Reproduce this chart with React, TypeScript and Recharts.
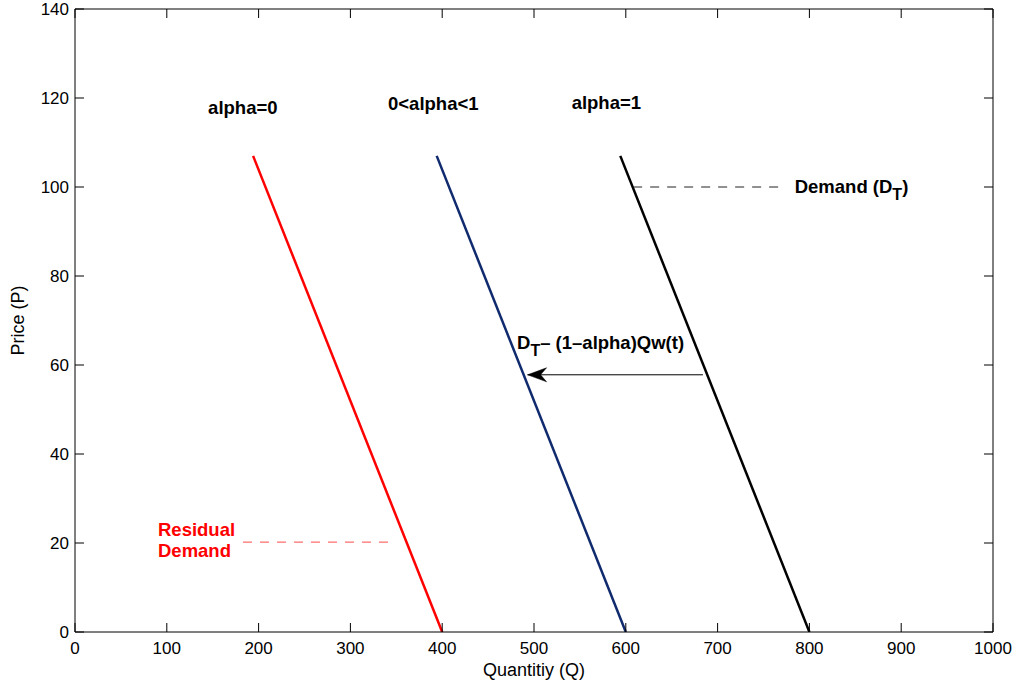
import React from 'react';
import { ComposedChart, Line, Scatter, XAxis, YAxis, Label } from 'recharts';

// Demand curves (Quantity q, Price p)
const redCurve = [{ q: 194, p: 107 }, { q: 400, p: 0 }];
const blueCurve = [{ q: 394, p: 107 }, { q: 600, p: 0 }];
const blackCurve = [{ q: 594, p: 107 }, { q: 800, p: 0 }];

// Dashed leader lines
const demandLeader = [{ q: 608, p: 100 }, { q: 768, p: 100 }];
const residualLeader = [{ q: 183, p: 20.2 }, { q: 343, p: 20.2 }];

// Shift arrow
const shiftArrow = [{ q: 684, p: 57.8 }, { q: 493, p: 57.8 }];

// Annotations
const annotations = [
  { q: 145, p: 116.5, text: 'alpha=0', color: '#000', sub: '', after: '' },
  { q: 341, p: 117.2, text: '0<alpha<1', color: '#000', sub: '', after: '' },
  { q: 541, p: 117.6, text: 'alpha=1', color: '#000', sub: '', after: '' },
  { q: 784, p: 98.6, text: 'Demand (D', color: '#000', sub: 'T', after: ')' },
  { q: 481.5, p: 63.7, text: 'D', color: '#000', sub: 'T', after: '\u2013 (1\u2013alpha)Qw(t)' },
  { q: 90.4, p: 21.6, text: 'Residual', color: '#ff0000', sub: '', after: '' },
  { q: 90.4, p: 16.9, text: 'Demand', color: '#ff0000', sub: '', after: '' },
];

const xTicks = [0, 100, 200, 300, 400, 500, 600, 700, 800, 900, 1000];
const yTicks = [0, 20, 40, 60, 80, 100, 120, 140];

const FONT = '"Liberation Sans", Arial, Helvetica, sans-serif';
const TICK_LEN = 9;

const BottomTick = (props: any) => {
  const { x, y, payload } = props;
  return (
    <g>
      <line x1={x} x2={x} y1={y} y2={y - TICK_LEN} stroke="#000" strokeWidth={1} />
      <text x={x} y={y + 22} textAnchor="middle" fontSize={17} fontFamily={FONT} fill="#000">
        {payload.value}
      </text>
    </g>
  );
};
const TopTick = (props: any) => {
  const { x, y } = props;
  return <line x1={x} x2={x} y1={y} y2={y + TICK_LEN} stroke="#000" strokeWidth={1} />;
};
const LeftTick = (props: any) => {
  const { x, y, payload } = props;
  return (
    <g>
      <line x1={x} x2={x + TICK_LEN} y1={y} y2={y} stroke="#000" strokeWidth={1} />
      <text x={x - 6} y={y + 6} textAnchor="end" fontSize={17} fontFamily={FONT} fill="#000">
        {payload.value}
      </text>
    </g>
  );
};
const RightTick = (props: any) => {
  const { x, y } = props;
  return <line x1={x} x2={x - TICK_LEN} y1={y} y2={y} stroke="#000" strokeWidth={1} />;
};

const AnnotationShape = (props: any) => {
  const { cx, cy, payload } = props;
  return (
    <text x={cx} y={cy} fontSize={18.5} fontWeight="bold" fontFamily={FONT} fill={payload.color}>
      {payload.text}
      {payload.sub ? (
        <tspan dy={7} fontSize={16}>{payload.sub}</tspan>
      ) : null}
      {payload.after ? <tspan dy={payload.sub ? -7 : 0}>{payload.after}</tspan> : null}
    </text>
  );
};

const ArrowHead = (props: any) => {
  const { cx, cy, index } = props;
  if (index !== 1) return <g key={`ah${index}`} />;
  return (
    <path
      key={`ah${index}`}
      d={`M ${cx} ${cy} L ${cx + 19} ${cy - 7} L ${cx + 13} ${cy} L ${cx + 19} ${cy + 7} Z`}
      fill="#000"
      stroke="#000"
      strokeWidth={0.5}
    />
  );
};

export default function App() {
  return (
    <div style={{ position: 'absolute', left: 0, top: 0, background: '#fff' }}>
      <ComposedChart width={1016} height={690} margin={{ top: 8, right: 22, bottom: 0, left: 0 }}>
        <XAxis
          xAxisId="b"
          type="number"
          dataKey="q"
          domain={[0, 1000]}
          ticks={xTicks}
          interval={0}
          height={58}
          tickSize={0}
          tickMargin={0}
          tickLine={false}
          tick={<BottomTick />}
          axisLine={{ stroke: '#000', strokeWidth: 1 }}
          allowDataOverflow
        >
          <Label
            content={(p: any) => {
              const vb = p.viewBox;
              return (
                <text x={vb.x + vb.width / 2} y={vb.y + 44} textAnchor="middle" fontSize={18} fontFamily={FONT} fill="#000">
                  Quantitiy (Q)
                </text>
              );
            }}
          />
        </XAxis>
        <XAxis
          xAxisId="t"
          orientation="top"
          type="number"
          dataKey="q"
          domain={[0, 1000]}
          ticks={xTicks}
          interval={0}
          height={1}
          tickSize={0}
          tickMargin={0}
          tickLine={false}
          tick={<TopTick />}
          axisLine={{ stroke: '#000', strokeWidth: 1 }}
          allowDataOverflow
        />
        <YAxis
          yAxisId="l"
          type="number"
          dataKey="p"
          domain={[0, 140]}
          ticks={yTicks}
          interval={0}
          width={75}
          tickSize={0}
          tickMargin={0}
          tickLine={false}
          tick={<LeftTick />}
          axisLine={{ stroke: '#000', strokeWidth: 1 }}
          allowDataOverflow
        >
          <Label
            content={(p: any) => {
              const vb = p.viewBox;
              const cy = vb.y + vb.height / 2;
              return (
                <text x={24} y={cy} transform={`rotate(-90, 24, ${cy})`} textAnchor="middle" fontSize={18} fontFamily={FONT} fill="#000">
                  Price (P)
                </text>
              );
            }}
          />
        </YAxis>
        <YAxis
          yAxisId="r"
          orientation="right"
          type="number"
          dataKey="p"
          domain={[0, 140]}
          ticks={yTicks}
          interval={0}
          width={1}
          tickSize={0}
          tickMargin={0}
          tickLine={false}
          tick={<RightTick />}
          axisLine={{ stroke: '#000', strokeWidth: 1 }}
          allowDataOverflow
        />

        <Line xAxisId="t" yAxisId="r" data={blackCurve} dataKey="p" stroke="none" strokeWidth={0} dot={false} activeDot={false} isAnimationActive={false} />
        <Line xAxisId="b" yAxisId="l" data={redCurve} dataKey="p" stroke="#ff0000" strokeWidth={2.5} dot={false} isAnimationActive={false} />
        <Line xAxisId="b" yAxisId="l" data={blueCurve} dataKey="p" stroke="#102a6e" strokeWidth={2.5} dot={false} isAnimationActive={false} />
        <Line xAxisId="b" yAxisId="l" data={blackCurve} dataKey="p" stroke="#000" strokeWidth={2.5} dot={false} isAnimationActive={false} />
        <Line xAxisId="b" yAxisId="l" data={demandLeader} dataKey="p" stroke="#222" strokeWidth={1} strokeDasharray="9 8" dot={false} isAnimationActive={false} />
        <Line xAxisId="b" yAxisId="l" data={residualLeader} dataKey="p" stroke="#ff4a4a" strokeWidth={1} strokeDasharray="9 8" dot={false} isAnimationActive={false} />
        <Line xAxisId="b" yAxisId="l" data={shiftArrow} dataKey="p" stroke="#000" strokeWidth={1} dot={<ArrowHead />} activeDot={false} isAnimationActive={false} />
        <Scatter xAxisId="b" yAxisId="l" data={annotations} dataKey="p" shape={<AnnotationShape />} isAnimationActive={false} />
      </ComposedChart>
    </div>
  );
}
